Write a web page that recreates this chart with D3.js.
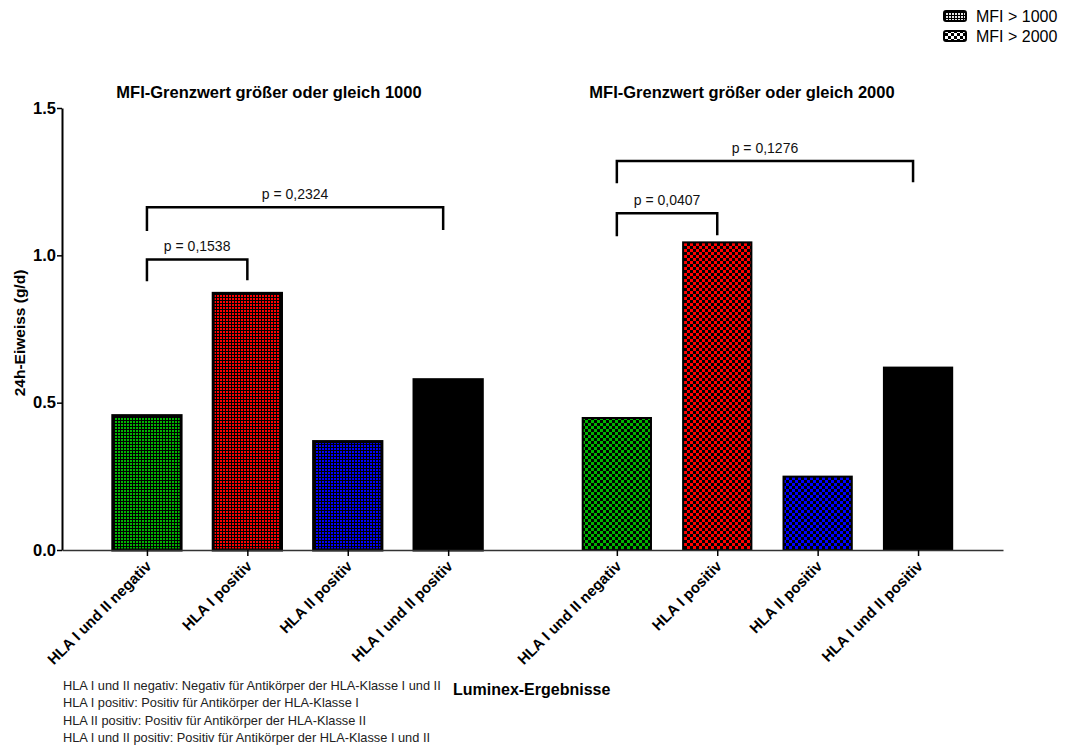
<!DOCTYPE html>
<html>
<head>
<meta charset="utf-8">
<script src="https://cdn.jsdelivr.net/npm/d3@7"></script>
<style>
  html, body { margin: 0; padding: 0; background: #fff; }
  svg { display: block; font-family: "Liberation Sans", Arial, sans-serif; }
</style>
</head>
<body>
<svg id="chart" width="1065" height="749"></svg>
<script>
// Kategorien (Luminex-Ergebnisse)
const categories = ["HLA I und II negativ", "HLA I positiv", "HLA II positiv", "HLA I und II positiv"];
const barColors = ["#00b400", "#ff0000", "#0000ff", "#000000"];

// Panels: MFI-Grenzwert
const panels = ["MFI-Grenzwert größer oder gleich 1000", "MFI-Grenzwert größer oder gleich 2000"];
const legendLabels = ["MFI > 1000", "MFI > 2000"];

// 24h-Eiweiss (g/d), Mittelwerte
const values1000 = [0.456, 0.871, 0.368, 0.578];
const values2000 = [0.448, 1.044, 0.249, 0.619];

// y-Achse
const yTicks = [0.0, 0.5, 1.0, 1.5];

// Signifikanz-Klammern: [Panel, von, bis, Höhe, Beinende, Text]
const brackets = [
  [0, 0, 1, 0.986, 0.912, "p = 0,1538"],
  [0, 0, 3, 1.163, 1.083, "p = 0,2324"],
  [1, 0, 1, 1.143, 1.065, "p = 0,0407"],
  [1, 0, 3, 1.320, 1.245, "p = 0,1276"]
];

const footnotes = [
  "HLA I und II negativ: Negativ für Antikörper der HLA-Klasse I und II",
  "HLA I positiv: Positiv für Antikörper der HLA-Klasse I",
  "HLA II positiv: Positiv für Antikörper der HLA-Klasse II",
  "HLA I und II positiv: Positiv für Antikörper der HLA-Klasse I und II"
];

const svg = d3.select("#chart");
const defs = svg.append("defs");

// Muster: fein (MFI > 1000) und grob kariert (MFI > 2000)
function finePattern(id, color) {
  const p = defs.append("pattern").attr("id", id).attr("patternUnits", "userSpaceOnUse")
    .attr("width", 3).attr("height", 3);
  p.append("rect").attr("width", 3).attr("height", 3).attr("fill", color);
  p.append("rect").attr("x", 0).attr("y", 0).attr("width", 3).attr("height", 1).attr("fill", "#000");
  p.append("rect").attr("x", 0).attr("y", 0).attr("width", 1).attr("height", 3).attr("fill", "#000");
}
function coarsePattern(id, color) {
  const p = defs.append("pattern").attr("id", id).attr("patternUnits", "userSpaceOnUse")
    .attr("width", 6).attr("height", 6);
  p.append("rect").attr("width", 6).attr("height", 6).attr("fill", color);
  p.append("rect").attr("x", 0).attr("y", 0).attr("width", 3).attr("height", 3).attr("fill", "#000");
  p.append("rect").attr("x", 3).attr("y", 3).attr("width", 3).attr("height", 3).attr("fill", "#000");
}
barColors.forEach((c, i) => { finePattern("fine" + i, c); coarsePattern("coarse" + i, c); });
finePattern("fineLegend", "#e8e8e8");
coarsePattern("coarseLegend", "#ffffff");

// Skalen
const y = d3.scaleLinear().domain([0, 1.5]).range([550, 108]);
const groupGap = 1.68;
const x = d3.scaleLinear().domain([-0.846, 3 + groupGap + 3 + 0.846]).range([62, 1003]);
const step = x(1) - x(0);
const barW = step * 0.68;
function slot(g, i) { return g === 0 ? i : i + 3 + groupGap; }

const data = [];
[values1000, values2000].forEach((vals, g) => {
  vals.forEach((v, i) => data.push({ g, i, v, cat: categories[i] }));
});

// Balken
svg.append("g").selectAll("rect").data(data).enter().append("rect")
  .attr("x", d => x(slot(d.g, d.i)) - barW / 2)
  .attr("y", d => y(d.v))
  .attr("width", barW)
  .attr("height", d => y(0) - y(d.v))
  .attr("fill", d => `url(#${d.g === 0 ? "fine" : "coarse"}${d.i})`)
  .attr("stroke", "#000")
  .attr("stroke-width", d => d.g === 0 ? 3 : 2);

// y-Achse
const yAxis = svg.append("g").attr("transform", "translate(62,0)")
  .call(d3.axisLeft(y).tickValues(yTicks).tickFormat(d3.format(".1f")).tickSize(5).tickSizeOuter(0));
yAxis.select(".domain").attr("stroke", "#000").attr("stroke-width", 2);
yAxis.selectAll(".tick line").attr("stroke", "#000").attr("stroke-width", 1.5);
yAxis.selectAll(".tick text").attr("font-size", 16.5).attr("font-weight", "bold")
  .attr("font-family", "Liberation Sans, Arial, sans-serif").attr("fill", "#000").attr("x", -6);

// x-Achse
const xTickVals = data.map(d => slot(d.g, d.i));
const xAxis = svg.append("g").attr("transform", "translate(0,550)")
  .call(d3.axisBottom(x).tickValues(xTickVals).tickFormat((d, k) => categories[k % 4]).tickSize(6).tickSizeOuter(0));
xAxis.select(".domain").attr("stroke", "#333").attr("stroke-width", 1.5);
xAxis.selectAll(".tick line").attr("stroke", "#000").attr("stroke-width", 1.5);
xAxis.selectAll(".tick text")
  .attr("font-size", 15).attr("font-weight", "bold").attr("fill", "#000")
  .attr("font-family", "Liberation Sans, Arial, sans-serif")
  .attr("text-anchor", "end").attr("dy", null).attr("y", 0).attr("x", 0)
  .attr("transform", "translate(5,17) rotate(-45)");

// Panel-Titel
panels.forEach((t, g) => {
  svg.append("text").attr("x", g === 0 ? 269 : 742).attr("y", 98)
    .attr("text-anchor", "middle").attr("font-size", 16.5).attr("font-weight", "bold").text(t);
});

// Signifikanz-Klammern
brackets.forEach(([g, a, b, h, leg, label]) => {
  const x1 = x(slot(g, a)), x2 = x(slot(g, b)) - (b === 3 ? 5 : 0);
  svg.append("path")
    .attr("d", `M${x1},${y(leg)} V${y(h)} H${x2} V${y(leg) - 1}`)
    .attr("fill", "none").attr("stroke", "#000").attr("stroke-width", 2.5);
  svg.append("text").attr("x", (x1 + x2) / 2).attr("y", y(h) - 8)
    .attr("text-anchor", "middle").attr("font-size", 14).attr("fill", "#111").text(label);
});

// y-Achsentitel
svg.append("text").attr("transform", "translate(25,333) rotate(-90)")
  .attr("text-anchor", "middle").attr("font-size", 15.5).attr("font-weight", "bold").text("24h-Eiweiss (g/d)");

// x-Achsentitel
svg.append("text").attr("x", 453).attr("y", 695).attr("font-size", 16).attr("font-weight", "bold").text("Luminex-Ergebnisse");

// Fußnoten
svg.append("g").selectAll("text").data(footnotes).enter().append("text")
  .attr("x", 63).attr("y", (d, i) => 689.5 + i * 17.6)
  .attr("font-size", 12.8).attr("fill", "#222").text(d => d);

// Legende
legendLabels.forEach((t, i) => {
  const gy = 16 + i * 20;
  svg.append("rect").attr("x", 944).attr("y", gy - 5).attr("width", 22).attr("height", 10)
    .attr("rx", 2).attr("fill", `url(#${i === 0 ? "fineLegend" : "coarseLegend"})`)
    .attr("stroke", "#000").attr("stroke-width", 2);
  svg.append("text").attr("x", 976).attr("y", gy + 6).attr("font-size", 16).attr("fill", "#000").text(t);
});
</script>
</body>
</html>
